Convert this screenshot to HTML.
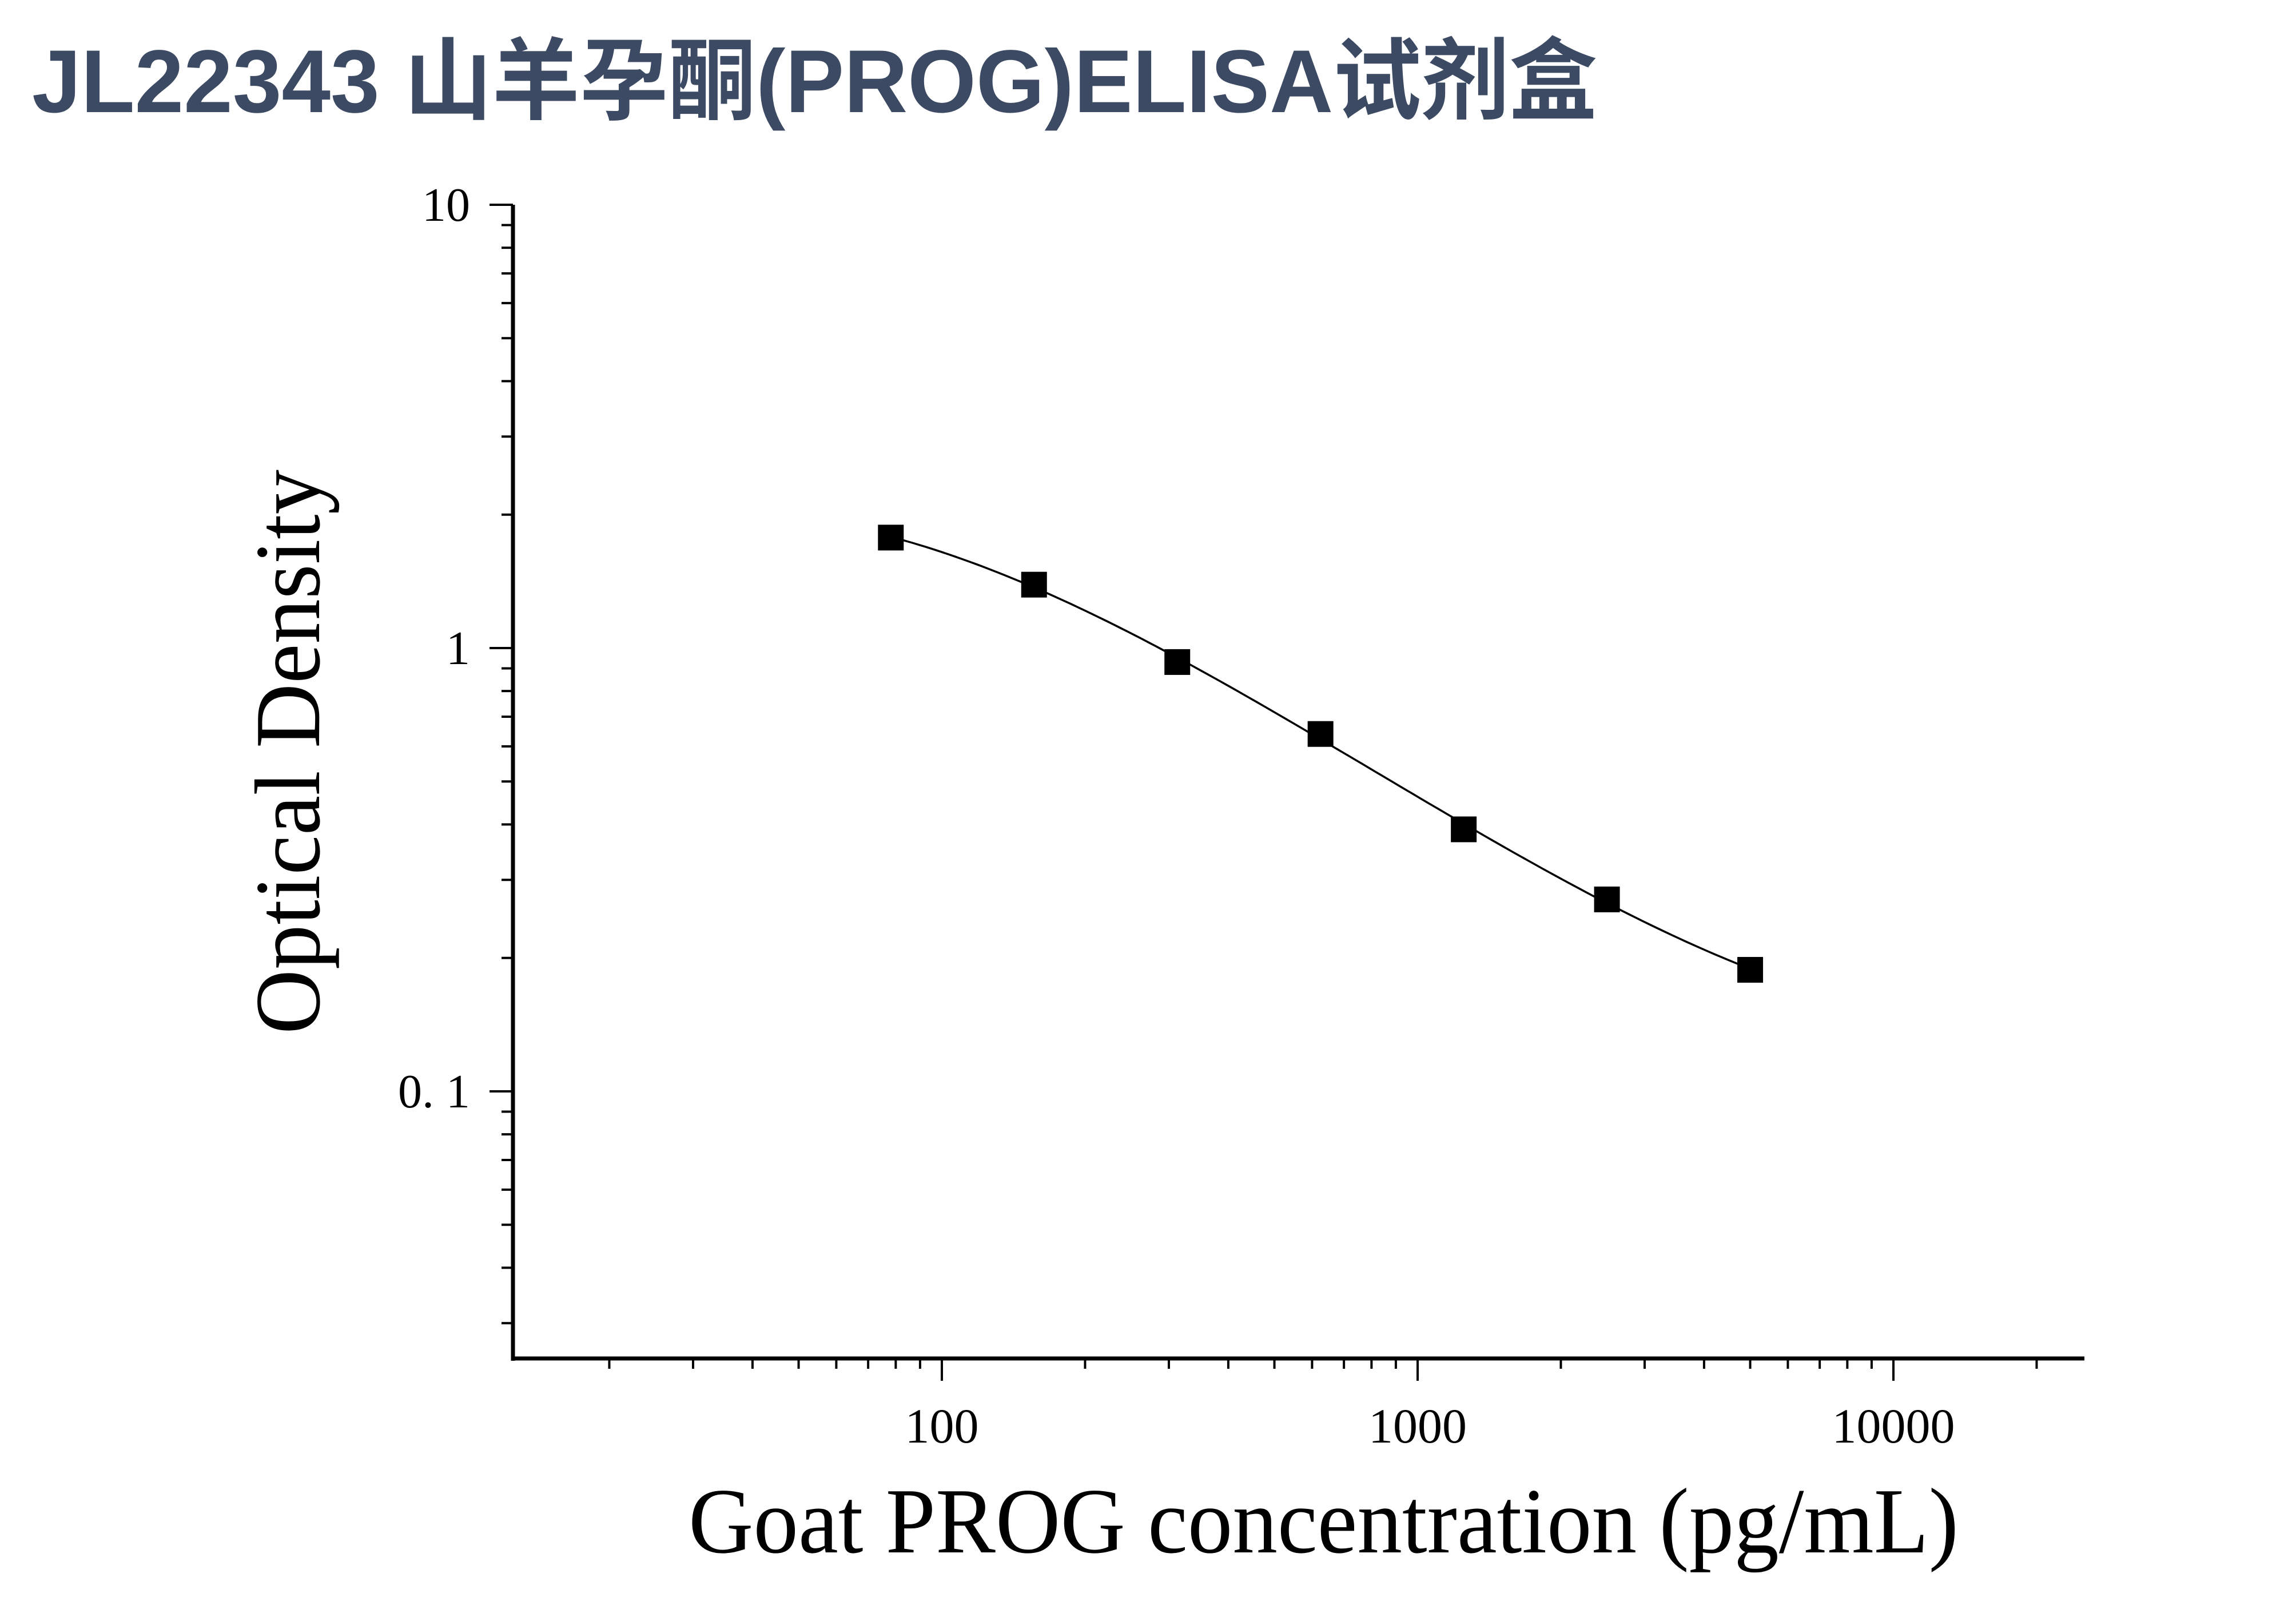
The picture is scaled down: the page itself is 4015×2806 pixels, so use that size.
<!DOCTYPE html>
<html><head><meta charset="utf-8"><style>
html,body{margin:0;padding:0;background:#fff;}
svg{display:block;}
</style></head><body>
<svg id="chart" width="4015" height="2806" viewBox="0 0 4015 2806" xmlns="http://www.w3.org/2000/svg">
<rect width="4015" height="2806" fill="#fff"/>
<text x="56" y="196" font-family="'Liberation Sans','Noto Sans CJK SC',sans-serif" font-weight="bold" font-size="156" fill="#3d4a63" textLength="2737" lengthAdjust="spacingAndGlyphs">JL22343 山羊孕酮(PROG)ELISA试剂盒</text>
<g id="axes"></g>
<g id="marks"></g>
<text x="1204" y="2714" font-family="'Liberation Serif',serif" font-size="163" fill="#000" textLength="2221" lengthAdjust="spacingAndGlyphs">Goat PROG concentration (pg/mL)</text>
<text transform="translate(558,1808) rotate(-90)" x="0" y="0" font-family="'Liberation Serif',serif" font-size="163" fill="#000" textLength="987" lengthAdjust="spacingAndGlyphs">Optical Density</text>
</svg>
<script>
const concentrations = [78.125, 156.25, 312.5, 625, 1250, 2500, 5000];
const odValues = [1.775, 1.39, 0.93, 0.64, 0.39, 0.271, 0.188];
const xTickValues = [100, 1000, 10000];
const xTickLabels = ["100", "1000", "10000"];
const yTickValues = [0.1, 1, 10];
const yTickLabels = ["0. 1", "1", "10"];

const NS = "http://www.w3.org/2000/svg";
const X0 = 897, Y0 = 2375, XR = 3645, YT = 358;
const xDec = 832, yDec = 775, X100 = 1647;
function xs(v){ return X100 + (Math.log10(v) - 2) * xDec; }
function ys(v){ return 1133 - Math.log10(v) * yDec; }
function mk(tag, attrs, parent){ const e = document.createElementNS(NS, tag); for (const k in attrs) e.setAttribute(k, attrs[k]); parent.appendChild(e); return e; }
const axes = document.getElementById('axes');
const marks = document.getElementById('marks');

const yAxis = mk('line', {x1:X0, y1:YT, x2:X0, y2:Y0+4, stroke:'#000','stroke-width':7}, axes);


const xAxis = mk('line', {x1:X0-3, y1:Y0, x2:XR, y2:Y0, stroke:'#000','stroke-width':7}, axes);



for (let d = -2; d <= 1; d++) {
  for (let m = 1; m <= 9; m++) {
    const val = m * Math.pow(10, d);
    const y = ys(val);
    if (y > Y0 || y < YT - 1) continue;
    const major = m === 1;
    const t = mk('line', {x1: major ? 856 : 877, y1:y, x2:X0, y2:y, stroke:'#000','stroke-width':4}, axes);
    
    
  }
}
yTickValues.forEach((v, i) => {
  const t = mk('text', {x:822, y:ys(v)+28, 'text-anchor':'end','font-family':"'Liberation Serif',serif",'font-size':84, fill:'#000'}, axes);
  t.textContent = yTickLabels[i];
  
  
});

for (let d = 1; d <= 4; d++) {
  for (let m = 1; m <= 9; m++) {
    const val = m * Math.pow(10, d);
    const x = xs(val);
    if (x < X0 + 5 || x > XR) continue;
    const major = m === 1;
    const t = mk('line', {x1:x, y1:Y0, x2:x, y2: major ? 2414 : 2393, stroke:'#000','stroke-width':4}, axes);
    
    
  }
}
xTickValues.forEach((v, i) => {
  const t = mk('text', {x:xs(v), y:2522, 'text-anchor':'middle','font-family':"'Liberation Serif',serif",'font-size':86, fill:'#000'}, axes);
  t.textContent = xTickLabels[i];
  
  
});

const lx = concentrations.map(c => Math.log10(c));
const ly = odValues.map(v => Math.log10(v));
function fitPoly(xv, yv, deg){
  const n = deg + 1;
  const A = Array.from({length:n}, () => new Array(n + 1).fill(0));
  for (let k = 0; k < xv.length; k++) {
    for (let i = 0; i < n; i++) {
      for (let j = 0; j < n; j++) A[i][j] += Math.pow(xv[k], i + j);
      A[i][n] += yv[k] * Math.pow(xv[k], i);
    }
  }
  for (let i = 0; i < n; i++) {
    let p = i; for (let r = i + 1; r < n; r++) if (Math.abs(A[r][i]) > Math.abs(A[p][i])) p = r;
    [A[i], A[p]] = [A[p], A[i]];
    for (let r = 0; r < n; r++) if (r !== i) { const f = A[r][i] / A[i][i]; for (let c = i; c <= n; c++) A[r][c] -= f * A[i][c]; }
  }
  return A.map((row, i) => row[n] / row[i]);
}
const coef = fitPoly(lx, ly, 3);
function evalPoly(x){ return coef.reduce((s, c, i) => s + c * Math.pow(x, i), 0); }
let d = '';
const N = 120;
for (let i = 0; i <= N; i++) {
  const x = lx[0] + (lx[lx.length-1] - lx[0]) * i / N;
  const px = X100 + (x - 2) * xDec;
  const py = 1133 - evalPoly(x) * yDec;
  d += (i ? ' L' : 'M') + px.toFixed(1) + ',' + py.toFixed(1);
}
const curve = mk('path', {d:d, fill:'none', stroke:'#000', 'stroke-width':3.5}, marks);



concentrations.forEach((c, i) => {
  const r = mk('rect', {x:xs(c)-22.5, y:ys(odValues[i])-22.5, width:45, height:45, fill:'#000'}, marks);
  
  
});
</script>
</body></html>
